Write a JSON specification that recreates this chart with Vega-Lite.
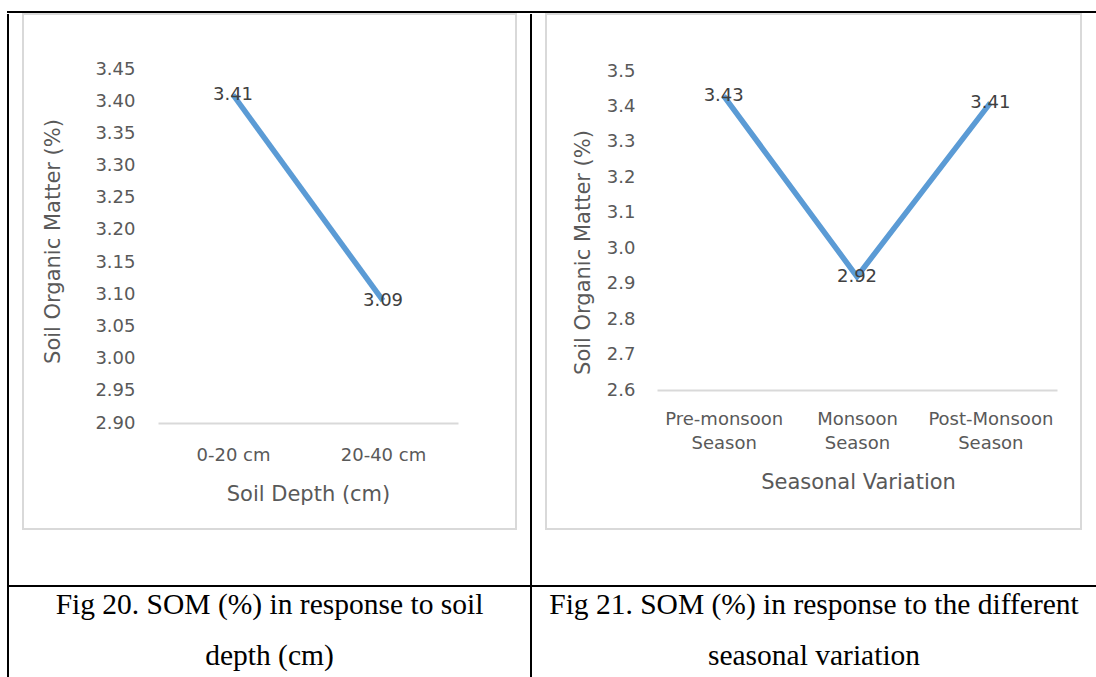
{
  "$schema": "https://vega.github.io/schema/vega-lite/v6.json",
  "padding": {"left": 7, "top": 11, "right": 0, "bottom": 0},
  "background": "white",
  "config": {
    "view": {"stroke": null},
    "font": "DejaVu Sans",
    "axis": {
      "labelFont": "DejaVu Sans",
      "labelFontSize": 18,
      "labelColor": "#595959",
      "titleFont": "DejaVu Sans",
      "titleFontSize": 21,
      "titleFontWeight": "normal",
      "titleColor": "#595959",
      "grid": false,
      "ticks": false
    }
  },
  "bounds": "full",
  "spacing": 0,
  "vconcat": [
    {
      "width": 1089, "height": 2,
      "view": {"fill": "black", "stroke": null},
      "data": {"values": []},
      "mark": "rect"
    },
    {
      "bounds": "flush",
      "spacing": 14,
      "hconcat": [
        {
          "width": 2, "height": 571,
          "view": {"fill": "black", "stroke": null},
          "data": {"values": []},
          "mark": "rect"
        },
        {
          "width": 493, "height": 515,
          "view": {"stroke": "#d9d9d9", "strokeWidth": 2},
          "data": {"values": [
            {"depth": "0-20 cm", "som": 3.41},
            {"depth": "20-40 cm", "som": 3.09}
          ]},
          "encoding": {
            "x": {
              "field": "depth", "type": "nominal", "sort": null,
              "scale": {"type": "point", "range": [135, 435], "padding": 0.5},
              "axis": {
                "title": "Soil Depth (cm)",
                "orient": "bottom",
                "offset": -106,
                "domainColor": "#d9d9d9",
                "domainWidth": 2,
                "labelAngle": 0,
                "labelPadding": 32,
                "labelBaseline": "middle",
                "titleX": 285,
                "titleY": 71,
                "titleBaseline": "middle"
              }
            },
            "y": {
              "field": "som", "type": "quantitative",
              "scale": {"domain": [2.9, 3.45], "range": [409, 55], "nice": false, "zero": false},
              "axis": {
                "title": "Soil Organic Matter (%)",
                "values": [2.9, 2.95, 3.0, 3.05, 3.1, 3.15, 3.2, 3.25, 3.3, 3.35, 3.4, 3.45],
                "format": ".2f",
                "offset": -114,
                "domain": false,
                "labelPadding": 2,
                "titleX": -84,
                "titleY": 227,
                "titleAngle": -90,
                "titleAlign": "center",
                "titleBaseline": "middle"
              }
            }
          },
          "layer": [
            {"mark": {"type": "line", "color": "#5b9bd5", "strokeWidth": 5.5}},
            {
              "mark": {"type": "text", "align": "center", "baseline": "middle", "fontSize": 18, "color": "#404040", "font": "DejaVu Sans"},
              "encoding": {"text": {"field": "som", "type": "quantitative", "format": ".2f"}}
            }
          ]
        },
        {
          "width": 2, "height": 571,
          "view": {"fill": "black", "stroke": null},
          "data": {"values": []},
          "mark": "rect"
        },
        {
          "width": 535, "height": 515,
          "view": {"stroke": "#d9d9d9", "strokeWidth": 2},
          "data": {"values": [
            {"season": "Pre-monsoon Season", "som": 3.43},
            {"season": "Monsoon Season", "som": 2.92},
            {"season": "Post-Monsoon Season", "som": 3.41}
          ]},
          "encoding": {
            "x": {
              "field": "season", "type": "nominal", "sort": null,
              "scale": {"type": "point", "range": [111, 511], "padding": 0.5},
              "axis": {
                "title": "Seasonal Variation",
                "orient": "bottom",
                "offset": -139,
                "domainColor": "#d9d9d9",
                "domainWidth": 2,
                "labelAngle": 0,
                "labelPadding": 29,
                "labelBaseline": "middle",
                "labelLineHeight": 24,
                "labelExpr": "split(datum.label, ' ')",
                "titleX": 312,
                "titleY": 92,
                "titleBaseline": "middle"
              }
            },
            "y": {
              "field": "som", "type": "quantitative",
              "scale": {"domain": [2.6, 3.5], "range": [376, 57], "nice": false, "zero": false},
              "axis": {
                "title": "Soil Organic Matter (%)",
                "values": [2.6, 2.7, 2.8, 2.9, 3.0, 3.1, 3.2, 3.3, 3.4, 3.5],
                "format": ".1f",
                "offset": -91,
                "domain": false,
                "labelPadding": 2,
                "titleX": -54,
                "titleY": 238,
                "titleAngle": -90,
                "titleAlign": "center",
                "titleBaseline": "middle"
              }
            }
          },
          "layer": [
            {"mark": {"type": "line", "color": "#5b9bd5", "strokeWidth": 5.5}},
            {
              "mark": {"type": "text", "align": "center", "baseline": "middle", "fontSize": 18, "color": "#404040", "font": "DejaVu Sans"},
              "encoding": {"text": {"field": "som", "type": "quantitative", "format": ".2f"}}
            }
          ]
        }
      ]
    },
    {
      "width": 1089, "height": 2,
      "view": {"fill": "black", "stroke": null},
      "data": {"values": []},
      "mark": "rect"
    },
    {
      "bounds": "flush",
      "spacing": 0,
      "hconcat": [
        {
          "width": 2, "height": 91,
          "view": {"fill": "black", "stroke": null},
          "data": {"values": []},
          "mark": "rect"
        },
        {
          "width": 521, "height": 91,
          "data": {"values": [{"caption": "Fig 20. SOM (%) in response to soil\ndepth (cm)"}]},
          "mark": {"type": "text", "font": "Liberation Serif", "fontSize": 29.5, "color": "black", "align": "center", "baseline": "middle", "lineBreak": "\n", "lineHeight": 51, "dy": -28},
          "encoding": {"text": {"field": "caption", "type": "nominal"}}
        },
        {
          "width": 2, "height": 91,
          "view": {"fill": "black", "stroke": null},
          "data": {"values": []},
          "mark": "rect"
        },
        {
          "width": 564, "height": 91,
          "data": {"values": [{"caption": "Fig 21. SOM (%) in response to the different\nseasonal variation"}]},
          "mark": {"type": "text", "font": "Liberation Serif", "fontSize": 29.5, "color": "black", "align": "center", "baseline": "middle", "lineBreak": "\n", "lineHeight": 51, "dy": -28},
          "encoding": {"text": {"field": "caption", "type": "nominal"}}
        }
      ]
    }
  ]
}
